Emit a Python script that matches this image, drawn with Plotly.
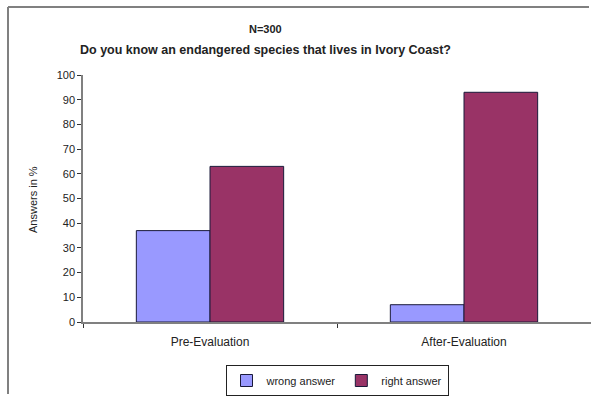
import plotly.graph_objects as go

# Survey results (N=300), share of answers in percent
categories = ["Pre-Evaluation", "After-Evaluation"]
wrong_answer = [37, 7]
right_answer = [63, 93]
y_ticks = list(range(0, 101, 10))

W, H = 591, 396
L, R, T, B = 83, 0, 75, 74
pw, ph = W - L - R, H - T - B


def px(x):
    return (x - L) / pw


def py(y):
    return (H - B - y) / ph


font = "Liberation Sans, Arial, sans-serif"

fig = go.Figure()
fig.add_trace(go.Bar(
    x=categories, y=wrong_answer, name="wrong answer",
    marker=dict(color="#9999FF", line=dict(color="#1a1a3a", width=1)),
))
fig.add_trace(go.Bar(
    x=categories, y=right_answer, name="right answer",
    marker=dict(color="#993366", line=dict(color="#1a1a3a", width=1)),
))

fig.update_layout(
    width=W, height=H,
    margin=dict(l=L, r=R, t=T, b=B),
    paper_bgcolor="white", plot_bgcolor="white",
    barmode="group", bargap=0.42, bargroupgap=0,
    font=dict(family=font, size=11, color="#222222"),
    showlegend=True,
    legend=dict(
        orientation="h", x=px(337), xanchor="center", y=py(381), yanchor="middle",
        bordercolor="#222222", borderwidth=1, bgcolor="white",
        font=dict(size=11), itemwidth=30, tracegroupgap=0,
    ),
    xaxis=dict(
        showline=True, linecolor="#808080", linewidth=1.5,
        ticks="outside", tickson="boundaries", ticklen=4, tickcolor="#333333",
        tickfont=dict(size=12), ticklabelstandoff=8,
        showgrid=False, zeroline=False,
    ),
    yaxis=dict(
        range=[0, 100], tickvals=y_ticks,
        showline=True, linecolor="#808080", linewidth=1.5,
        ticks="outside", ticklen=4, tickcolor="#333333",
        tickfont=dict(size=11), showgrid=False, zeroline=False,
    ),
    annotations=[
        dict(text="<b>N=300</b>", x=px(265), y=py(29), xref="paper", yref="paper",
             xanchor="center", yanchor="middle", showarrow=False, font=dict(size=11)),
        dict(text="<b>Do you know an endangered species that lives in Ivory Coast?</b>",
             x=px(265), y=py(50), xref="paper", yref="paper",
             xanchor="center", yanchor="middle", showarrow=False, font=dict(size=12.5)),
        dict(text="Answers in %", textangle=-90, x=px(33), y=py(200),
             xref="paper", yref="paper", xanchor="center", yanchor="middle",
             showarrow=False, font=dict(size=11)),
    ],
    shapes=[
        # chart frame: top edge and left edge
        dict(type="line", xref="paper", yref="paper",
             x0=px(8), x1=px(W - 2), y0=py(7), y1=py(7),
             line=dict(color="#808080", width=2)),
        dict(type="line", xref="paper", yref="paper",
             x0=px(8), x1=px(8), y0=py(7), y1=py(H - 2),
             line=dict(color="#808080", width=2)),
    ],
)

fig.write_html("out.html")
